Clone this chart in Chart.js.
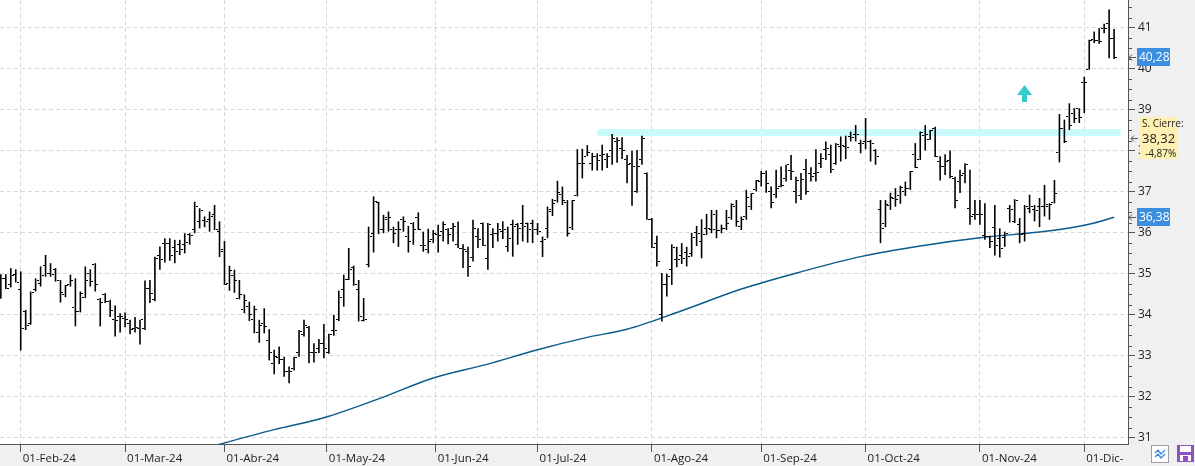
<!DOCTYPE html>
<html>
<head>
<meta charset="utf-8">
<script src="https://cdn.jsdelivr.net/npm/chart.js@4.4.1/dist/chart.umd.min.js"></script>
<style>
    html, body { margin: 0; padding: 0; background: #fff; }
    #wrap { width: 1195px; height: 466px; }
</style>
</head>
<body>
<div id="wrap"><canvas id="myChart" width="1195" height="466"></canvas></div>
<script>
// Daily bars, one per trading session (26-Jan-24 .. 10-Dic-24)
const opens = [
    34.89,34.89,34.75,34.98,34.63,34.08,33.80,34.63,34.77,35.20,
    35.02,35.10,34.83,34.49,34.73,34.18,34.08,34.42,35.02,35.22,
    34.37,34.50,34.33,33.88,33.95,33.92,33.80,33.67,33.67,33.67,
    34.65,34.37,35.46,35.75,35.75,35.64,35.71,35.72,35.95,36.09,
    36.28,36.30,36.33,36.44,36.03,35.54,34.77,34.96,34.41,34.14,
    34.20,33.88,33.58,33.80,33.37,32.82,32.97,32.90,32.62,32.68,
    33.09,33.51,33.70,33.09,33.19,33.31,33.07,33.61,33.88,34.61,
    34.87,35.16,34.63,33.86,35.24,35.99,36.74,36.07,36.37,36.07,
    36.09,36.33,35.91,36.24,36.38,35.68,35.59,35.85,35.95,36.03,
    36.09,36.11,35.71,35.63,35.54,35.41,35.90,36.24,35.37,35.95,
    35.99,36.03,35.66,36.20,36.20,36.24,36.24,36.22,36.09,35.79,
    36.11,36.52,36.80,36.93,36.75,36.14,36.90,37.68,37.87,37.68,
    37.87,37.89,37.78,38.02,38.23,38.07,37.78,37.70,37.01,37.78,
    37.46,36.33,35.75,34.00,34.73,35.10,35.34,35.44,35.52,35.50,
    36.00,35.79,36.11,36.07,36.07,36.05,36.10,36.38,36.64,36.15,
    36.41,36.64,37.05,37.25,37.46,37.01,36.93,37.13,37.33,37.52,
    37.01,36.90,37.54,37.46,37.46,37.68,38.04,37.90,37.70,38.11,
    38.11,38.35,38.39,38.17,38.23,38.23,38.00,36.58,36.24,36.66,
    36.85,36.90,37.01,37.09,37.90,37.80,38.37,38.28,38.55,37.74,
    37.63,37.76,37.33,37.25,37.46,36.60,36.44,36.46,35.93,35.91,
    36.14,35.87,35.89,36.60,36.28,36.20,35.99,36.60,36.56,36.64,
    36.64,36.70,36.74,37.95,38.55,38.85,38.92,39.04,39.67,39.98,
    40.71,40.70,40.99,41.10,40.75
];
const highs = [
    34.99,34.99,35.14,35.11,35.06,34.12,34.57,34.89,35.18,35.46,
    35.26,35.14,34.85,34.73,34.98,34.89,34.57,35.18,35.11,35.26,
    34.41,34.53,34.37,34.23,34.04,34.06,33.88,33.95,33.88,34.84,
    34.85,35.42,35.67,35.87,35.87,35.83,35.83,35.99,35.99,36.76,
    36.60,36.40,36.52,36.68,36.28,35.80,35.20,35.10,34.85,34.50,
    34.32,34.22,33.88,34.16,33.65,33.15,33.23,32.98,32.74,32.98,
    33.63,33.88,33.73,33.31,33.41,33.78,33.54,34.00,34.59,34.98,
    35.63,35.20,34.85,34.41,36.15,36.89,36.76,36.44,36.52,36.15,
    36.28,36.40,36.17,36.26,36.50,36.03,36.10,36.07,36.20,36.28,
    36.11,36.24,36.28,35.72,35.66,36.32,36.11,36.25,36.24,36.11,
    36.24,36.28,36.15,36.32,36.24,36.68,36.25,36.32,36.24,35.91,
    36.64,36.83,37.27,37.13,36.80,36.80,38.04,38.05,38.14,37.95,
    37.94,38.15,37.94,38.41,38.33,38.33,37.90,38.00,38.02,38.37,
    37.47,36.36,35.93,35.02,35.00,35.72,35.66,35.75,35.66,36.00,
    36.17,36.33,36.46,36.56,36.56,36.20,36.56,36.72,36.80,36.40,
    37.05,36.97,37.29,37.51,37.52,37.13,37.54,37.62,37.66,37.90,
    37.37,37.46,37.80,37.60,38.04,37.94,38.23,38.15,38.19,38.35,
    38.37,38.47,38.63,38.27,38.80,38.27,38.04,36.80,36.80,36.98,
    37.09,37.15,37.25,37.51,38.19,38.47,38.63,38.51,38.59,37.87,
    37.92,38.01,37.37,37.54,37.70,37.54,36.80,36.80,36.72,35.93,
    36.68,36.11,36.03,36.68,36.82,36.36,36.68,36.93,36.68,36.85,
    37.17,36.72,37.29,38.90,38.76,39.16,39.04,39.04,39.81,40.71,
    40.91,40.99,41.10,41.45,40.97
];
const lows = [
    34.39,34.63,34.67,34.79,33.13,33.63,33.76,34.57,34.69,34.93,
    34.93,34.81,34.30,34.43,34.69,33.72,34.06,34.41,34.69,34.57,
    33.72,34.29,33.95,33.47,33.57,33.70,33.53,33.57,33.28,33.63,
    34.29,34.33,35.10,35.28,35.32,35.26,35.46,35.50,35.71,35.99,
    36.11,36.14,36.03,36.07,35.41,34.73,34.59,34.54,34.38,34.04,
    33.85,33.55,33.32,33.55,32.89,32.55,32.80,32.49,32.33,32.64,
    32.98,33.47,32.82,32.84,33.07,32.94,33.05,33.49,33.85,34.20,
    34.85,34.71,33.84,33.84,35.16,35.52,35.97,35.99,36.03,35.75,
    35.66,36.03,35.52,35.71,36.07,35.54,35.50,35.75,35.52,35.79,
    35.72,35.79,35.63,35.14,34.93,35.30,35.63,35.68,35.10,35.63,
    35.79,35.85,35.54,35.42,35.71,35.79,35.76,35.75,35.95,35.41,
    35.87,36.41,36.74,36.68,35.91,36.07,36.89,37.33,37.87,37.52,
    37.52,37.52,37.58,37.66,37.71,37.80,37.21,36.66,36.98,37.66,
    36.32,35.63,35.18,33.84,34.45,34.73,35.16,35.24,35.18,35.42,
    35.68,35.38,35.95,35.99,35.87,35.99,36.07,36.32,36.15,36.07,
    36.32,36.56,37.01,37.13,36.98,36.60,36.85,37.11,37.25,37.29,
    36.72,36.80,36.93,37.25,37.25,37.58,37.78,37.46,37.66,37.74,
    37.80,38.23,38.23,37.94,38.04,37.74,37.66,35.75,36.14,36.56,
    36.64,36.71,36.90,37.05,37.58,37.78,38.01,38.27,37.85,37.28,
    37.41,37.33,36.60,36.97,37.21,36.20,36.32,36.20,35.83,35.63,
    35.45,35.40,35.66,36.25,36.24,35.75,35.79,36.48,36.28,36.14,
    36.40,36.32,36.72,37.72,38.19,38.51,38.68,38.68,38.92,39.98,
    40.63,40.61,40.87,40.26,40.24
];
const closes = [
    34.89,34.65,34.95,34.79,33.67,33.73,34.55,34.85,34.95,35.02,
    34.99,34.85,34.55,34.72,34.85,34.08,34.53,34.84,34.81,34.75,
    34.29,34.33,34.11,33.86,33.95,33.88,33.65,33.70,33.88,34.65,
    34.53,35.38,35.34,35.75,35.46,35.54,35.59,35.76,35.93,36.65,
    36.55,36.28,36.41,36.09,35.60,34.75,35.08,34.85,34.50,34.35,
    34.00,34.12,33.74,33.71,33.07,32.98,32.90,32.62,32.62,32.95,
    33.59,33.73,33.09,33.09,33.31,33.19,33.51,33.63,34.42,34.87,
    35.10,34.75,33.96,33.88,35.91,36.76,36.07,36.33,36.38,35.99,
    36.07,36.28,35.79,36.07,36.07,35.68,35.79,35.98,35.93,36.21,
    35.95,36.15,35.63,35.59,35.18,36.11,35.83,35.68,36.21,35.99,
    36.09,36.07,35.87,36.15,36.11,36.15,36.09,36.07,36.03,35.83,
    36.56,36.72,36.98,36.80,35.99,36.78,37.68,37.68,37.95,37.87,
    37.77,37.90,37.87,38.31,38.25,38.02,37.66,37.63,37.63,38.31,
    36.33,35.64,35.30,34.73,34.93,35.64,35.36,35.38,35.42,35.88,
    35.99,35.95,36.11,36.44,36.06,36.10,36.24,36.70,36.28,36.33,
    36.87,36.95,37.28,37.46,37.20,36.74,37.09,37.15,37.66,37.50,
    37.28,37.31,37.01,37.37,37.47,37.82,38.07,37.54,38.15,38.12,
    38.09,38.33,38.39,38.19,38.23,38.19,37.87,36.11,36.68,36.87,
    36.82,37.11,37.07,37.50,37.60,38.45,38.39,38.50,37.87,37.63,
    37.74,37.37,36.79,37.41,37.66,36.41,36.46,36.46,35.91,35.79,
    35.68,35.63,35.99,36.58,36.80,35.95,36.64,36.64,36.54,36.64,
    36.64,36.68,36.97,38.55,38.24,38.63,38.80,38.82,39.67,40.69,
    40.68,40.66,40.99,40.73,40.28
];

// moving average, read at a few sessions along the curve
const maIndex = [42, 55, 65, 76, 87, 98, 108, 118, 126, 137, 149, 161, 173, 185, 197, 209, 215, 220, 224];
const maValues = [30.78, 31.20, 31.49, 31.95, 32.46, 32.80, 33.15, 33.45, 33.65, 34.10, 34.63, 35.05, 35.42, 35.68, 35.88, 36.02, 36.12, 36.24, 36.38];

// resistance band and signal arrow
const bandIndex = [120, 225.3];
const bandLevel = 38.45;
const arrowPoint = [205.9, 39.40];

// axis
const monthTicks = [4, 25, 45, 65.6, 87.5, 108, 131, 153, 174, 197, 218];
const monthLabels = ['01-Feb-24', '01-Mar-24', '01-Abr-24', '01-May-24', '01-Jun-24', '01-Jul-24',
                     '01-Ago-24', '01-Sep-24', '01-Oct-24', '01-Nov-24', '01-Dic-24'];
const yTicks = [31, 32, 33, 34, 35, 36, 37, 38, 39, 40, 41];

// right side tags
const lastPrice = 40.28;
const maLast = 36.38;
const prevClose = 38.32;
const changeText = '-4,87%';

const FONT = '"Open Sans", "Noto Sans", sans-serif';
const fmt = v => v.toFixed(2).replace('.', ',');

// small images used as point styles for the open / close ticks
function tickImage(side) {
    const c = document.createElement('canvas');
    c.width = 6; c.height = 1;
    const g = c.getContext('2d');
    g.fillStyle = '#000';
    g.fillRect(side === 'left' ? 0 : 4, 0, 2, 1);
    return c;
}

function arrowImage() {
    const c = document.createElement('canvas');
    c.width = 15; c.height = 17;
    const g = c.getContext('2d');
    g.fillStyle = '#33cccc';
    g.beginPath();
    g.moveTo(7.5, 0);
    g.lineTo(15, 10);
    g.lineTo(10, 10);
    g.lineTo(10, 17);
    g.lineTo(5, 17);
    g.lineTo(5, 10);
    g.lineTo(0, 10);
    g.closePath();
    g.fill();
    return c;
}

const idx = highs.map((_, i) => i);
const rangeData = idx.map(i => ({ x: i, y: [lows[i], highs[i]] }));
const openData = idx.map(i => ({ x: i, y: opens[i] }));
const closeData = idx.map(i => ({ x: i, y: closes[i] }));
const maData = maIndex.map((x, k) => ({ x: x, y: maValues[k] }));
const bandData = bandIndex.map(x => ({ x: x, y: bandLevel }));

function leftArrow(ctx, x, y) {
    ctx.strokeStyle = '#555';
    ctx.lineWidth = 1;
    ctx.beginPath();
    ctx.moveTo(x, y + 0.5); ctx.lineTo(x + 7, y + 0.5);
    ctx.moveTo(x + 3, y - 2.5); ctx.lineTo(x, y + 0.5); ctx.lineTo(x + 3, y + 3.5);
    ctx.stroke();
}

function blueTag(ctx, y, text) {
    ctx.fillStyle = '#3c8ee0';
    ctx.fillRect(1137, Math.round(y) - 9, 33, 18);
    ctx.fillStyle = '#fff';
    ctx.font = '12px ' + FONT;
    ctx.textBaseline = 'middle';
    ctx.textAlign = 'left';
    ctx.fillText(text, 1139, Math.round(y) + 1);
    leftArrow(ctx, 1129, Math.round(y));
}

// backgrounds, y minor ticks, tags and the corner buttons
const decor = {
    id: 'decor',
    beforeDraw(chart) {
        const { ctx, chartArea: a, width, height } = chart;
        ctx.save();
        ctx.fillStyle = '#f0f0f0';
        ctx.fillRect(0, 0, width, height);
        ctx.fillStyle = '#fff';
        ctx.fillRect(a.left, a.top, a.right - a.left, a.bottom - a.top);
        ctx.restore();
    },
    beforeDatasetsDraw(chart) {
        chart.ctx.imageSmoothingEnabled = false;
    },
    afterDraw(chart) {
        const { ctx, chartArea: a } = chart;
        const ys = chart.scales.y;
        ctx.save();
        ctx.imageSmoothingEnabled = true;

        // minor ticks on the price axis
        ctx.strokeStyle = '#555';
        ctx.lineWidth = 1;
        ctx.beginPath();
        for (let v = 31.25; v < 41.8; v += 0.25) {
            if (Math.abs(v - Math.round(v)) < 0.01) continue;
            const y = Math.round(ys.getPixelForValue(v)) + 0.5;
            ctx.moveTo(a.right, y); ctx.lineTo(a.right + 4, y);
        }
        ctx.stroke();

        blueTag(ctx, ys.getPixelForValue(lastPrice), fmt(lastPrice));
        blueTag(ctx, ys.getPixelForValue(maLast), fmt(maLast));

        // previous close box
        const yc = Math.round(ys.getPixelForValue(prevClose));
        ctx.fillStyle = '#fdf0b2';
        ctx.fillRect(1140, yc - 21, 38, 42);
        ctx.fillStyle = '#222';
        ctx.textBaseline = 'middle';
        ctx.font = '10px ' + FONT;
        ctx.fillText('S. Cierre:', 1142, yc - 14);
        ctx.font = '13px ' + FONT;
        ctx.fillText(fmt(prevClose), 1142, yc + 1);
        ctx.font = '10px ' + FONT;
        ctx.fillText(changeText, 1145, yc + 16);
        leftArrow(ctx, 1131, yc);

        // corner buttons over the end of the date axis
        ctx.fillStyle = '#f0f0f0';
        ctx.fillRect(1123, a.bottom + 1, 1195 - 1123, 466 - a.bottom - 1);
        ctx.fillStyle = '#fff';
        ctx.fillRect(1152, 446, 16, 16);
        ctx.strokeStyle = '#a0a0a0';
        ctx.strokeRect(1151.5, 445.5, 17, 17);
        ctx.strokeStyle = '#3a8ee0';
        ctx.lineWidth = 1.3;
        ctx.beginPath();
        ctx.moveTo(1155, 453); ctx.lineTo(1158, 450); ctx.lineTo(1161, 454); ctx.lineTo(1165, 450);
        ctx.moveTo(1155, 457); ctx.lineTo(1158, 454); ctx.lineTo(1161, 458); ctx.lineTo(1165, 454);
        ctx.stroke();
        ctx.fillStyle = '#8c52c6';
        ctx.fillRect(1177, 445, 17, 17);
        ctx.fillStyle = '#fff';
        ctx.fillRect(1180, 446, 11, 6);
        ctx.fillRect(1180, 455, 11, 6);
        ctx.fillStyle = '#8c52c6';
        ctx.fillRect(1183, 456, 5, 5);
        ctx.restore();
    }
};

const ctx = document.getElementById('myChart').getContext('2d');
const myChart = new Chart(ctx, {
    type: 'bar',
    data: {
        datasets: [
            {
                type: 'line',
                data: bandData,
                borderColor: '#c9fbfd',
                borderWidth: 7,
                borderCapStyle: 'butt',
                pointRadius: 0,
                order: 10
            },
            {
                type: 'line',
                data: maData,
                borderColor: '#0b5b8d',
                borderWidth: 1.4,
                pointRadius: 0,
                cubicInterpolationMode: 'monotone',
                order: 8
            },
            {
                type: 'bar',
                data: rangeData,
                backgroundColor: '#000',
                borderWidth: 0,
                barThickness: 1.6,
                inflateAmount: 0,
                grouped: false,
                order: 3
            },
            {
                type: 'line',
                data: openData,
                showLine: false,
                pointStyle: tickImage('left'),
                pointRadius: 1,
                order: 2
            },
            {
                type: 'line',
                data: closeData,
                showLine: false,
                pointStyle: tickImage('right'),
                pointRadius: 1,
                order: 2
            },
            {
                type: 'line',
                data: [{ x: arrowPoint[0], y: arrowPoint[1] }],
                showLine: false,
                pointStyle: arrowImage(),
                pointRadius: 6,
                order: 1
            }
        ]
    },
    options: {
        responsive: false,
        devicePixelRatio: 1,
        animation: false,
        events: [],
        layout: { padding: 0, autoPadding: false },
        plugins: {
            legend: { display: false },
            tooltip: { enabled: false }
        },
        scales: {
            x: {
                type: 'linear',
                min: -0.17,
                max: 226.8,
                offset: false,
                afterBuildTicks: s => { s.ticks = monthTicks.map(v => ({ value: v })); },
                afterFit: s => { s.height = 22; s.paddingLeft = 0; s.paddingRight = 0; },
                ticks: {
                    autoSkip: false,
                    maxRotation: 0,
                    minRotation: 0,
                    align: 'start',
                    labelOffset: 2,
                    padding: 0,
                    color: '#222',
                    font: { family: FONT, size: 11.5 },
                    callback: v => monthLabels[monthTicks.indexOf(v)] || ''
                },
                grid: { offset: false, color: '#d8d8d8', lineWidth: 1, tickLength: 8, tickColor: '#555', tickBorderDash: [] },
                border: { display: true, color: '#555', width: 1, dash: [4, 3] }
            },
            y: {
                type: 'linear',
                position: 'right',
                min: 30.85,
                max: 41.68,
                afterBuildTicks: s => { s.ticks = yTicks.map(v => ({ value: v })); },
                afterFit: s => { s.width = 67; s.paddingTop = 0; s.paddingBottom = 0; },
                ticks: {
                    padding: 3,
                    color: '#222',
                    font: { family: FONT, size: 12 }
                },
                grid: { color: '#d8d8d8', lineWidth: 1, tickLength: 7, tickColor: '#555', tickBorderDash: [] },
                border: { display: true, color: '#555', width: 1, dash: [4, 3] }
            }
        }
    },
    plugins: [decor]
});
</script>
</body>
</html>
